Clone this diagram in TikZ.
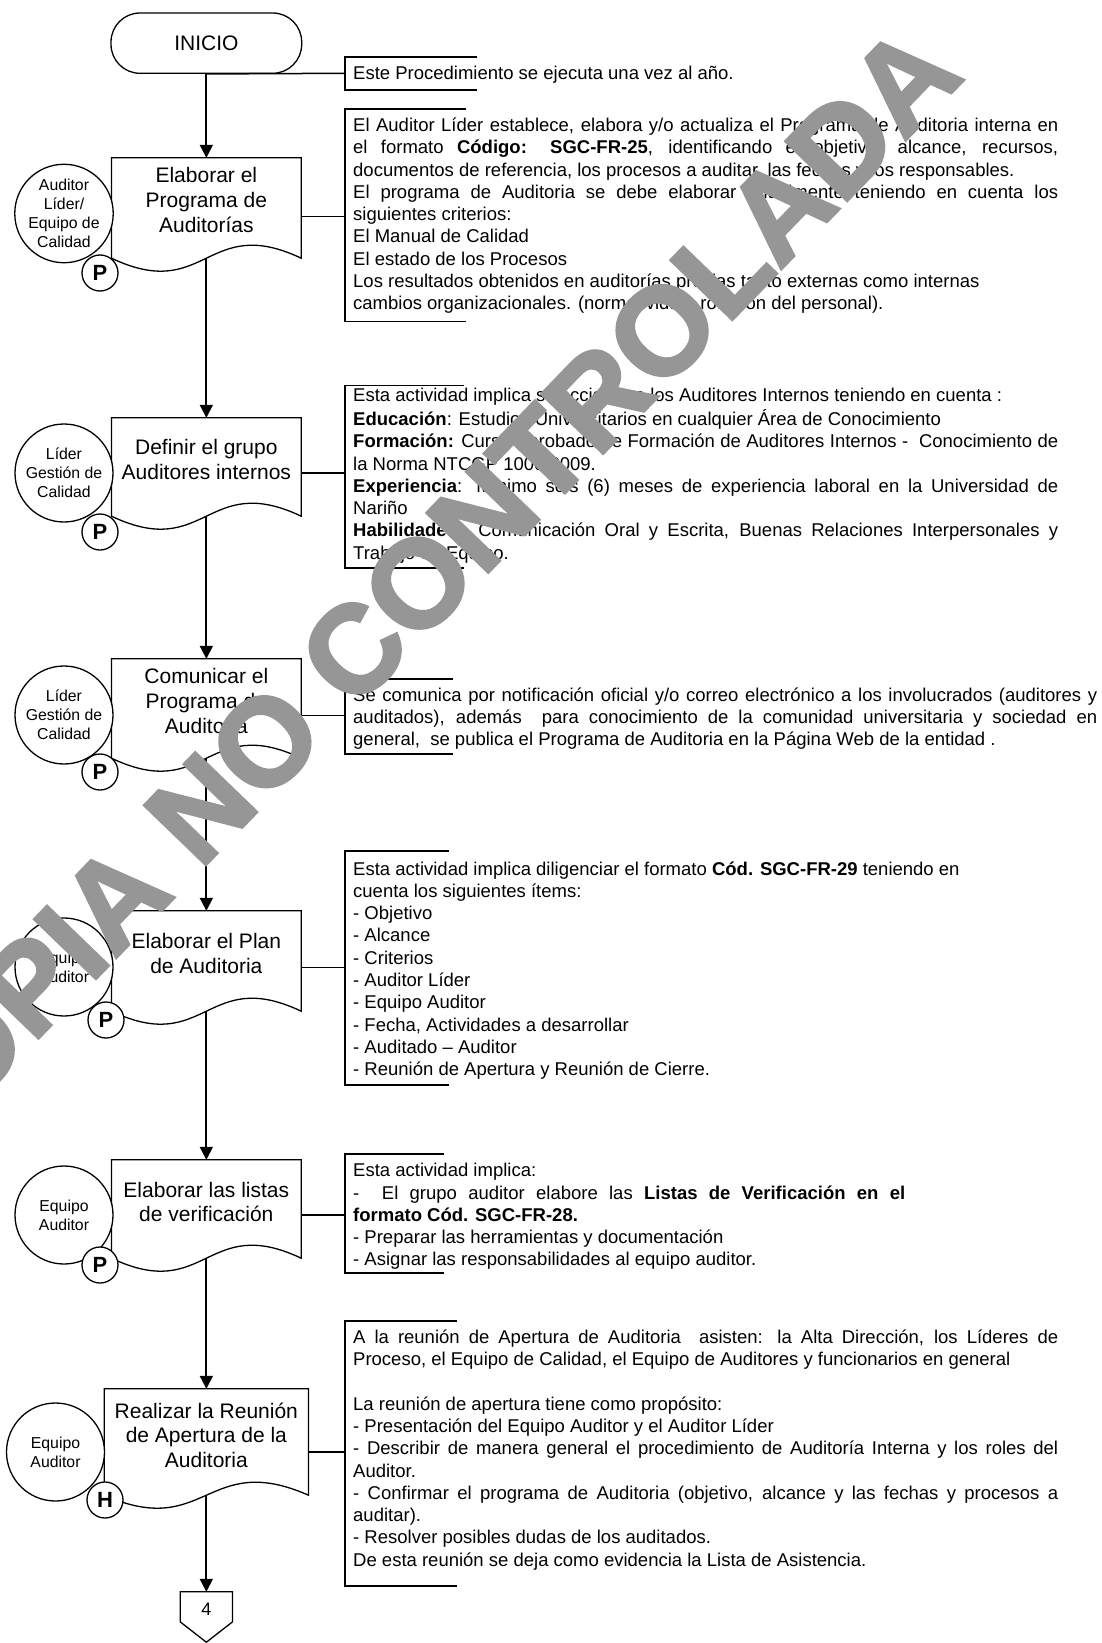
\documentclass[tikz,border=0pt]{standalone}
\usepackage{fontspec}
\setmainfont{Liberation Sans}
\newfontfamily\wmfont{Liberation Sans}[BoldFeatures={FakeBold=2.5}]
\usetikzlibrary{arrows.meta,calc}
\definecolor{wmgray}{RGB}{150,150,150}
\newcommand{\jA}[1]{\makebox[705pt][s]{#1}}
\newcommand{\jB}[1]{\makebox[744pt][s]{#1}}
\newcommand{\jC}[1]{\makebox[552pt][s]{#1}}
\newcommand{\drawdoc}[1]{\draw[docline] (#1.north west) -- (#1.north east) -- (#1.south east) .. controls ($(#1.south)+(0,-45)$) and ($(#1.south)+(0,45)$) .. (#1.south west) -- cycle;}
\tikzset{
  flow/.style={line width=1.8pt, -{Triangle[length=13pt,width=13pt]}},
  link/.style={line width=1.5pt},
  docline/.style={line width=1.3pt},
  docbox/.style={draw=none, minimum width=189.3pt, inner sep=0},
  proctext/.style={font=\fontsize{21}{24.6}\selectfont, align=center, inner sep=0},
  actor/.style={circle, draw, line width=1.3pt, fill=white, minimum size=98pt, inner sep=0, align=center, font=\fontsize{15.8}{19}\selectfont},
  phase/.style={circle, draw, line width=1.3pt, fill=white, minimum size=36pt, inner sep=0, font=\fontsize{22}{22}\selectfont\bfseries},
  note/.style={anchor=north west, inner sep=0, font=\fontsize{18.5}{22.3}\selectfont},
  bracketline/.style={line width=1.6pt},
}
\begin{document}
\begin{tikzpicture}[x=1pt,y=-1pt]
\useasboundingbox (0,0) rectangle (1102,1643);
\clip (0,0) rectangle (1102,1643);
\fill[white] (0,0) rectangle (1102,1643);

% start
\node[draw, line width=1.3pt, rounded corners=29pt, minimum width=190.7pt, minimum height=60.3pt, inner sep=0, font=\fontsize{21}{24}\selectfont] (inicio) at (206.35,43.15) {INICIO};

% process boxes (document shapes)
\node[docbox, minimum height=100pt] (p1) at (206.35,208) {};
\node[docbox, minimum height=98pt] (p2) at (206.35,467) {};
\node[docbox, minimum height=99pt] (p3) at (206.35,708.5) {};
\node[docbox, minimum height=100pt] (p4) at (206.35,961) {};
\node[docbox, minimum height=98pt] (p5) at (206.35,1209) {};
\node[docbox, minimum width=204pt, minimum height=106pt] (p6) at (206.35,1442) {};
\drawdoc{p1}
\drawdoc{p2}
\drawdoc{p3}
\drawdoc{p4}
\drawdoc{p5}
\drawdoc{p6}

\node[proctext] (t1) at (206.35,200) {Elaborar el\\Programa de\\Auditorías};
\node[proctext] (t2) at (206.35,459.5) {Definir el grupo\\Auditores internos};
\node[proctext] (t3) at (206.35,701) {Comunicar el\\Programa de\\Auditoria};
\node[proctext] (t4) at (206.35,953.5) {Elaborar el Plan\\de Auditoria};
\node[proctext] (t5) at (206.35,1202) {Elaborar las listas\\de verificación};
\node[proctext] (t6) at (206.35,1435) {Realizar la Reunión\\de Apertura de la\\Auditoria};

% off-page connector
\node[minimum width=52pt, minimum height=50pt, inner sep=0] (off) at (206.35,1617) {};
\draw[docline] (off.north west) -- (off.north east) -- ($(off.north east)+(0,30)$) -- (off.south) -- ($(off.north west)+(0,30)$) -- cycle;
\node[inner sep=0, font=\fontsize{18}{20}\selectfont] (offt) at (206.35,1609) {4};

% flow arrows
\draw[flow] (inicio.south) -- (p1.north);
\draw[flow] (p1.south) -- (p2.north);
\draw[flow] (p2.south) -- (p3.north);
\draw[flow] (p3.south) -- (p4.north);
\draw[flow] (p4.south) -- (p5.north);
\draw[flow] (p5.south) -- (p6.north);
\draw[flow] (p6.south) -- (off.north);

% actors
\node[actor] (r1) at (64,213.5) {Auditor\\Líder/\\Equipo de\\Calidad};
\node[actor] (r2) at (64,473) {Líder\\Gestión de\\Calidad};
\node[actor] (r3) at (64,715) {Líder\\Gestión de\\Calidad};
\node[actor] (r4) at (64,967) {Equipo\\Auditor};
\node[actor] (r5) at (64,1215) {Equipo\\Auditor};
\node[actor] (r6) at (55.5,1452) {Equipo\\Auditor};

% phase markers
\node[phase] (f1) at (100,273) {P};
\node[phase] (f2) at (100,532) {P};
\node[phase] (f3) at (100,772) {P};
\node[phase] (f4) at (106,1020) {P};
\node[phase] (f5) at (100,1265) {P};
\node[phase] (f6) at (105,1500) {H};

% annotation brackets
\coordinate (b1) at (345,73.3);
\coordinate (b2) at (345,216.7);
\coordinate (b3) at (345,473);
\coordinate (b4) at (345,715.5);
\coordinate (b5) at (345,967.7);
\coordinate (b6) at (345,1215);
\coordinate (b7) at (345,1452);
\draw[bracketline] (477,57) -- (345,57) -- (345,90) -- (477,90);
\draw[bracketline] (466,109) -- (345,109) -- (345,321.6) -- (466,321.6);
\draw[bracketline] (464,385.5) -- (345,385.5) -- (345,568) -- (464,568);
\draw[bracketline] (452.5,679) -- (345,679) -- (345,754) -- (452.5,754);
\draw[bracketline] (449,851) -- (345,851) -- (345,1085) -- (449,1085);
\draw[bracketline] (444,1154) -- (345,1154) -- (345,1273) -- (444,1273);
\draw[bracketline] (457,1321) -- (345,1321) -- (345,1586) -- (457,1586);

\draw[link] (inicio.south) -- (b1);
\draw[link] (p1.east |- b2) -- (b2);
\draw[link] (p2.east |- b3) -- (b3);
\draw[link] (p3.east |- b4) -- (b4);
\draw[link] (p4.east |- b5) -- (b5);
\draw[link] (p5.east |- b6) -- (b6);
\draw[link] (p6.east |- b7) -- (b7);

% annotation texts
\node[inner sep=0, anchor=base west, font=\fontsize{18.5}{22.3}\selectfont] (n1) at (353,79.5) {Este Procedimiento se ejecuta una vez al año.};

\node[note] (n2) at (353,115.6) {\parbox[t]{760pt}{\raggedright
\strut\jA{El Auditor Líder establece, elabora y/o actualiza el Programa de Auditoria interna en}\\
\strut\jA{el formato \textbf{Código: SGC-FR-25}, identificando el objetivo, alcance, recursos,}\\
\strut documentos de referencia, los procesos a auditar, las fechas y los responsables.\\
\strut\jA{El programa de Auditoria se debe elaborar anualmente teniendo en cuenta los}\\
\strut siguientes criterios:\\
\strut El Manual de Calidad\\
\strut El estado de los Procesos\\
\strut Los resultados obtenidos en auditorías previas tanto externas como internas\\
\strut cambios organizacionales. (normatividad, rotación del personal).}};

\node[note] (n3) at (353,385.9) {\parbox[t]{760pt}{\raggedright
\strut Esta actividad implica seleccionar a los Auditores Internos teniendo en cuenta :\\
\strut\textbf{Educación}: Estudios Universitarios en cualquier Área de Conocimiento\\
\strut\jA{\textbf{Formación:} Curso Aprobado de Formación de Auditores Internos - \ Conocimiento de}\\
\strut la Norma NTCGP 1000:2009.\\
\strut\jA{\textbf{Experiencia}: Mínimo seis (6) meses de experiencia laboral en la Universidad de}\\
\strut Nariño\\
\strut\jA{\textbf{Habilidades:} Comunicación Oral y Escrita, Buenas Relaciones Interpersonales y}\\
\strut Trabajo en Equipo.}};

\node[note] (n4) at (353,685.4) {\parbox[t]{760pt}{\raggedright
\strut\jB{Se comunica por notificación oficial y/o correo electrónico a los involucrados (auditores y}\\
\strut\jB{auditados), además \ para conocimiento de la comunidad universitaria y sociedad en}\\
\strut general, \ se publica el Programa de Auditoria en la Página Web de la entidad .}};

\node[note] (n5) at (353,859.2) {\parbox[t]{760pt}{\raggedright
\strut Esta actividad implica diligenciar el formato \textbf{Cód. SGC-FR-29} teniendo en\\
\strut cuenta los siguientes ítems:\\
\strut - Objetivo\\
\strut - Alcance\\
\strut - Criterios\\
\strut - Auditor Líder\\
\strut - Equipo Auditor\\
\strut - Fecha, Actividades a desarrollar\\
\strut - Auditado – Auditor\\
\strut - Reunión de Apertura y Reunión de Cierre.}};

\node[note] (n6) at (353,1160.9) {\parbox[t]{760pt}{\raggedright
\strut Esta actividad implica:\\
\strut\jC{- \ El grupo auditor elabore las \textbf{Listas de Verificación en el}}\\
\strut\textbf{formato Cód. SGC-FR-28.}\\
\strut - Preparar las herramientas y documentación\\
\strut - Asignar las responsabilidades al equipo auditor.}};

\node[note] (n7) at (353,1327.4) {\parbox[t]{760pt}{\raggedright
\strut\jA{A la reunión de Apertura de Auditoria \ asisten: la Alta Dirección, los Líderes de}\\
\strut Proceso, el Equipo de Calidad, el Equipo de Auditores y funcionarios en general\\
\strut\\
\strut La reunión de apertura tiene como propósito:\\
\strut - Presentación del Equipo Auditor y el Auditor Líder\\
\strut\jA{- Describir de manera general el procedimiento de Auditoría Interna y los roles del}\\
\strut Auditor.\\
\strut\jA{- Confirmar el programa de Auditoria (objetivo, alcance y las fechas y procesos a}\\
\strut auditar).\\
\strut - Resolver posibles dudas de los auditados.\\
\strut De esta reunión se deja como evidencia la Lista de Asistencia.}};

% watermark
\node[rotate=46, text=wmgray, inner sep=0, font=\fontsize{124}{124}\wmfont\bfseries] (wm) at (404,598) {COPIA NO CONTROLADA};
\end{tikzpicture}
\end{document}
